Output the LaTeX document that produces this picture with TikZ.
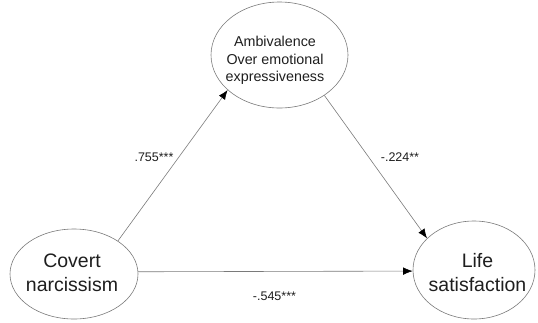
\documentclass[tikz,border=0pt]{standalone}
\usepackage{fontspec}
\setmainfont{Liberation Sans}
\usetikzlibrary{shapes.geometric,arrows.meta}
\definecolor{edgegray}{HTML}{7A7A7A}
\definecolor{txt}{HTML}{1E1E1E}
\tikzset{
  oval/.style={ellipse, draw=edgegray, line width=0.6pt, inner sep=0pt},
  bigtext/.style={align=center, text=txt, inner sep=0pt, font=\fontsize{19.5}{24}\selectfont},
  smalltext/.style={align=center, text=txt, inner sep=0pt, font=\fontsize{14.3}{17.5}\selectfont},
  coef/.style={text=txt, inner sep=0pt, anchor=base, font=\fontsize{12.5}{15}\selectfont},
  conn/.style={draw=edgegray, line width=0.6pt, -{Latex[length=9.5pt,width=7.5pt,color=black]}}
}
\begin{document}
\begin{tikzpicture}[x=1pt,y=-1pt]
\useasboundingbox (0,0) rectangle (538,322);
\node[oval, minimum width=137pt, minimum height=106pt] (T) at (279.5,55) {};
\node[oval, minimum width=128pt, minimum height=90pt] (L) at (74,274) {};
\node[oval, minimum width=122pt, minimum height=98pt] (R) at (474,270) {};
\node[smalltext] (Ttext) at (275,60.5) {Ambivalence\\Over emotional\\expressiveness};
\node[bigtext] (Ltext) at (72,272.9) {Covert\\narcissism};
\node[bigtext] (Rtext) at (477.5,272.9) {Life\\satisfaction};
\draw[conn] (L.37.5) -- (T.214.9);
\draw[conn] (T.318.9) -- (R.146.2);
\draw[conn] (L.2.24) -- (R.181.41);
\node[coef] (c1) at (154,161.7) {.755***};
\node[coef] (c2) at (400,161.7) {-.224**};
\node[coef] (c3) at (274.5,300) {-.545***};
\end{tikzpicture}
\end{document}
